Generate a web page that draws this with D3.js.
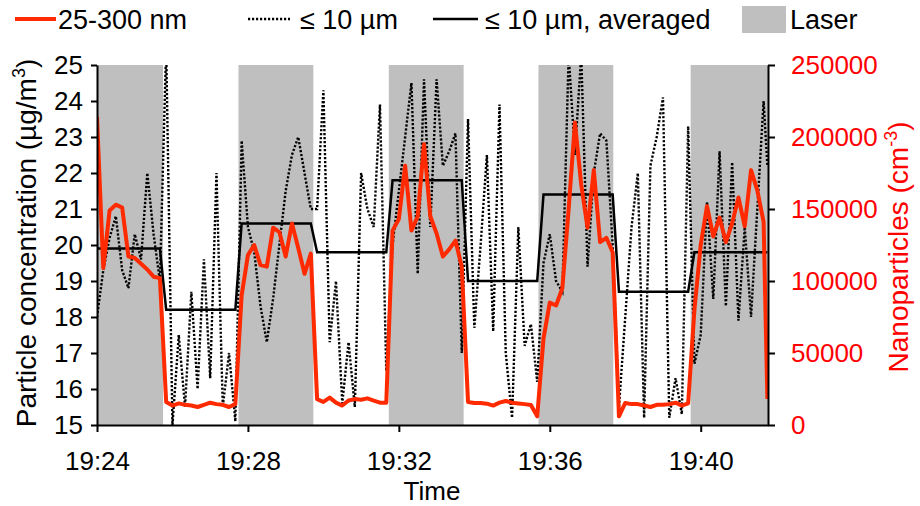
<!DOCTYPE html>
<html><head><meta charset="utf-8">
<script src="https://cdn.jsdelivr.net/npm/d3@7"></script>
<style>
body{margin:0;background:#fff;}
svg text{font-family:"Liberation Sans",Arial,sans-serif;}
</style></head><body>
<svg id="chart" width="920" height="506"></svg>
<script>
// ---------------- data ----------------
const startTime = "19:24:00";
const sampleSeconds = d3.range(0, 1061, 10).concat([1066]);
const nanoparticles = [
  214000,109000,149000,153000,151000,117000,116000,112000,108000,103000,102000,
  16000,13500,15000,14000,13500,12500,14000,15500,14500,14000,12500,14500,
  90000,118000,125000,111000,110000,137000,134000,117000,140000,123000,105000,119000,
  18000,16000,19000,15500,13500,17000,18000,17500,18500,17000,15500,15500,
  135000,143000,180000,135000,145000,195000,145000,133000,117000,122000,128000,110000,
  16000,15300,15300,14800,13500,15500,16700,15500,15000,14500,13900,6000,
  60000,85000,83000,95000,150000,210000,167000,137000,177000,127000,130000,120000,
  6000,15300,14500,14500,13500,12500,14000,14000,14500,15500,13500,15000,
  80000,125000,152000,131000,144000,127000,140000,158000,138000,177000,163000,141000,
  18000
];
const pm10 = [
  18.0,19.3,20.2,20.8,19.3,18.8,20.3,19.6,22.0,20.3,19.0,
  25.5,15.0,17.5,15.5,18.7,16.0,19.6,16.3,22.0,15.5,17.0,15.1,
  22.9,20.5,19.8,18.3,17.3,18.5,20.0,21.5,22.5,23.0,22.0,21.0,
  21.0,24.3,17.3,19.0,15.6,17.3,15.5,22.0,21.0,20.5,23.9,16.5,
  20.0,21.5,23.0,24.5,19.2,24.6,20.5,24.6,22.2,22.6,23.1,17.0,
  23.5,17.7,20.0,22.5,17.6,23.9,17.0,15.2,20.5,17.2,17.8,16.2,
  19.5,20.3,19.0,18.7,25.3,22.5,25.3,19.4,22.0,23.1,22.9,20.0,
  15.5,18.0,20.5,22.0,15.2,22.2,23.0,24.1,15.2,16.3,15.3,23.3,
  16.7,17.5,21.2,18.5,22.6,18.3,22.3,17.9,20.5,18.0,21.0,24.0,
  22.2
];
const periodBounds = [105,225,344,464,583,702,821,944];      // seconds after start
const pm10PeriodAverages = [19.9,18.2,20.6,19.8,21.8,19.0,21.4,18.7,19.8];
const laserStart = [-15,225,464,702,944];
const laserEnd   = [105,344,583,821,1067];
const xTickLabels = ["19:24","19:28","19:32","19:36","19:40"];
const leftTicks = [15,16,17,18,19,20,21,22,23,24,25];
const rightTicks = [0,50000,100000,150000,200000,250000];
const domainEndSeconds = 1067;

// ---------------- setup ----------------
const svg = d3.select("#chart");
const M = {left:97, right:768, top:65, bottom:425};
const parse = d3.timeParse("%H:%M:%S");
const t0 = parse(startTime);
const at = s => new Date(t0.getTime() + s*1000);

const x = d3.scaleTime().domain([t0, at(domainEndSeconds)]).range([M.left, M.right]);
const yL = d3.scaleLinear().domain([15,25]).range([M.bottom, M.top]);
const yR = d3.scaleLinear().domain([0,250000]).range([M.bottom, M.top]);

svg.append("defs").append("clipPath").attr("id","plotclip")
  .append("rect").attr("x",M.left).attr("y",M.top)
  .attr("width",M.right-M.left).attr("height",M.bottom-M.top);

const rows = sampleSeconds.map((s,i)=>{
  const p = d3.bisectRight(periodBounds, s);
  return {t:at(s), nano:nanoparticles[i], pm:pm10[i], avg:pm10PeriodAverages[p]};
});

const plot = svg.append("g").attr("clip-path","url(#plotclip)");

plot.selectAll("rect.laser").data(laserStart.map((s,i)=>[s,laserEnd[i]]))
  .join("rect").attr("class","laser")
  .attr("x",d=>x(at(d[0]))).attr("y",M.top)
  .attr("width",d=>x(at(d[1]))-x(at(d[0]))).attr("height",M.bottom-M.top)
  .attr("fill","#bfbfbf");

plot.append("path").datum(rows)
  .attr("d", d3.line().x(d=>x(d.t)).y(d=>yL(d.pm)))
  .attr("fill","none").attr("stroke","#000").attr("stroke-width",2.4)
  .attr("stroke-dasharray","2.2,1.8");

plot.append("path").datum(rows)
  .attr("d", d3.line().x(d=>x(d.t)).y(d=>yL(d.avg)))
  .attr("fill","none").attr("stroke","#000").attr("stroke-width",2.5);

plot.append("path").datum(rows)
  .attr("d", d3.line().x(d=>x(d.t)).y(d=>yR(d.nano)))
  .attr("fill","none").attr("stroke","#ff2a00").attr("stroke-width",4)
  .attr("stroke-linejoin","round");

// ---------------- axes ----------------
const fs = 26;
const gL = svg.append("g").attr("transform",`translate(${M.left},0)`)
  .call(d3.axisLeft(yL).tickValues(leftTicks).tickSize(6).tickSizeOuter(0).tickPadding(8).tickFormat(d3.format("d")));
const gR = svg.append("g").attr("transform",`translate(${M.right},0)`)
  .call(d3.axisRight(yR).tickValues(rightTicks).tickSize(7).tickSizeOuter(0).tickPadding(16).tickFormat(d3.format("d")));
const gB = svg.append("g").attr("transform",`translate(0,${M.bottom})`)
  .call(d3.axisBottom(x).tickValues(xTickLabels.map(l=>parse(l+":00"))).tickSize(7).tickSizeOuter(0).tickPadding(20).tickFormat(d3.timeFormat("%H:%M")));

[gL,gR,gB].forEach(g=>{
  g.selectAll("path.domain").attr("stroke","#000").attr("stroke-width",2);
  g.selectAll(".tick line").attr("stroke","#000").attr("stroke-width",2);
  g.selectAll(".tick text").attr("font-size",fs).attr("fill","#000");
});
gR.selectAll(".tick text").attr("fill","#ff0000");

const lt = svg.append("text").attr("transform","translate(36,243) rotate(-90)")
  .attr("text-anchor","middle").attr("font-size",28).attr("fill","#000");
lt.append("tspan").text("Particle concentration (µg/m");
lt.append("tspan").attr("font-size",18).attr("dy",-11).text("3");
lt.append("tspan").attr("dy",11).text(")");

const rt = svg.append("text").attr("transform","translate(908,247) rotate(-90)")
  .attr("text-anchor","middle").attr("font-size",28).attr("fill","#ff0000");
rt.append("tspan").text("Nanoparticles (cm");
rt.append("tspan").attr("font-size",18).attr("dy",-11).text("-3");
rt.append("tspan").attr("dy",11).text(")");

svg.append("text").attr("x",432).attr("y",500).attr("text-anchor","middle")
  .attr("font-size",fs).attr("fill","#000").text("Time");

// ---------------- legend ----------------
const lf = 27;
const lg = svg.append("g");
const ly = 19;
lg.append("line").attr("x1",15).attr("x2",56).attr("y1",ly).attr("y2",ly).attr("stroke","#ff2a00").attr("stroke-width",4);
lg.append("text").attr("x",58).attr("y",ly+10).attr("font-size",lf).text("25-300 nm");
lg.append("line").attr("x1",248).attr("x2",290).attr("y1",ly).attr("y2",ly).attr("stroke","#000").attr("stroke-width",2.4).attr("stroke-dasharray","2.2,1.8");
lg.append("text").attr("x",300).attr("y",ly+10).attr("font-size",lf).text("≤ 10 µm");
lg.append("line").attr("x1",433).attr("x2",478).attr("y1",ly).attr("y2",ly).attr("stroke","#000").attr("stroke-width",2.5);
lg.append("text").attr("x",485).attr("y",ly+10).attr("font-size",lf).text("≤ 10 µm, averaged");
lg.append("rect").attr("x",742).attr("y",6).attr("width",44).attr("height",27).attr("fill","#bfbfbf");
lg.append("text").attr("x",790).attr("y",ly+10).attr("font-size",lf).text("Laser");
</script>
</body></html>
